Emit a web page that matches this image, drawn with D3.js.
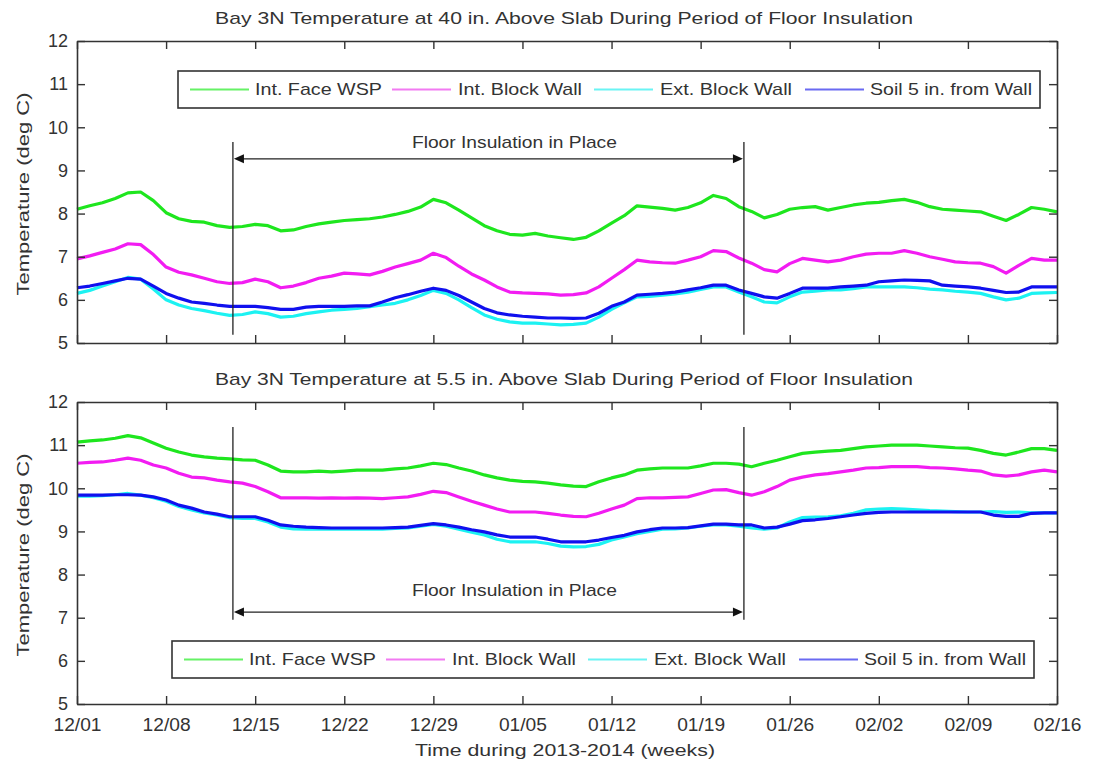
<!DOCTYPE html>
<html>
<head>
<meta charset="utf-8">
<script src="https://cdn.jsdelivr.net/npm/d3@7"></script>
<style>
  body { margin: 0; background: #fff; }
  svg text { font-family: "Liberation Sans", Arial, sans-serif; fill: #333; }
</style>
</head>
<body>
<div id="chart"></div>
<script>
// daily readings, 12/01/2013 .. 02/16/2014 (deg C)
var startDate = new Date(2013, 11, 1);
var endDate = new Date(2014, 1, 16);
var seriesNames = ["Int. Face WSP", "Int. Block Wall", "Ext. Block Wall", "Soil 5 in. from Wall"];
var seriesColors = ["#1ee61e", "#f21cf2", "#1cf2f2", "#1010ee"];
var legendColors = ["#66f266", "#f27af2", "#6af4f4", "#6a6af2"];
var yTicks = [5, 6, 7, 8, 9, 10, 11, 12];

var top40Face = [8.10, 8.18, 8.25, 8.35, 8.48, 8.50, 8.30, 8.02, 7.88, 7.82, 7.80, 7.72, 7.68, 7.70, 7.75, 7.72, 7.60, 7.62, 7.70, 7.76,
  7.80, 7.84, 7.86, 7.88, 7.92, 7.98, 8.05, 8.15, 8.33, 8.25, 8.08, 7.90, 7.72, 7.60, 7.52, 7.50, 7.54, 7.48, 7.44, 7.40,
  7.45, 7.60, 7.78, 7.95, 8.18, 8.15, 8.12, 8.08, 8.14, 8.25, 8.42, 8.35, 8.16, 8.05, 7.90, 7.98, 8.10, 8.14, 8.16, 8.08,
  8.14, 8.20, 8.24, 8.26, 8.30, 8.33, 8.26, 8.16, 8.10, 8.08, 8.06, 8.04, 7.94, 7.84, 7.98, 8.14, 8.10, 8.04];
var top40IntBlock = [6.95, 7.02, 7.10, 7.18, 7.30, 7.28, 7.05, 6.76, 6.64, 6.58, 6.50, 6.42, 6.38, 6.40, 6.48, 6.42, 6.28, 6.32, 6.40, 6.50,
  6.55, 6.62, 6.60, 6.58, 6.66, 6.76, 6.84, 6.92, 7.08, 6.98, 6.78, 6.60, 6.46, 6.30, 6.18, 6.16, 6.15, 6.14, 6.11, 6.12,
  6.16, 6.30, 6.50, 6.70, 6.92, 6.88, 6.86, 6.85, 6.92, 7.00, 7.14, 7.12, 6.97, 6.85, 6.70, 6.65, 6.84, 6.96, 6.92, 6.88,
  6.92, 7.00, 7.06, 7.08, 7.08, 7.14, 7.08, 7.00, 6.94, 6.88, 6.86, 6.85, 6.77, 6.62, 6.80, 6.96, 6.92, 6.92];
var top40ExtBlock = [6.15, 6.22, 6.32, 6.42, 6.52, 6.48, 6.25, 6.00, 5.88, 5.80, 5.75, 5.69, 5.64, 5.66, 5.72, 5.68, 5.60, 5.62, 5.68, 5.72,
  5.76, 5.78, 5.80, 5.84, 5.88, 5.92, 6.00, 6.10, 6.22, 6.15, 6.00, 5.82, 5.65, 5.55, 5.49, 5.46, 5.46, 5.44, 5.42, 5.43,
  5.46, 5.60, 5.78, 5.93, 6.07, 6.08, 6.11, 6.14, 6.18, 6.24, 6.30, 6.30, 6.18, 6.07, 5.95, 5.93, 6.07, 6.18, 6.20, 6.23,
  6.23, 6.26, 6.30, 6.30, 6.30, 6.30, 6.28, 6.25, 6.23, 6.20, 6.18, 6.15, 6.07, 6.00, 6.04, 6.15, 6.16, 6.17];
var top40Soil = [6.28, 6.32, 6.38, 6.44, 6.50, 6.48, 6.32, 6.15, 6.04, 5.95, 5.92, 5.88, 5.85, 5.85, 5.85, 5.82, 5.78, 5.78, 5.83, 5.85,
  5.85, 5.85, 5.86, 5.86, 5.95, 6.05, 6.12, 6.20, 6.27, 6.22, 6.10, 5.95, 5.80, 5.70, 5.65, 5.62, 5.60, 5.58, 5.58, 5.57,
  5.58, 5.69, 5.85, 5.95, 6.11, 6.13, 6.15, 6.18, 6.23, 6.28, 6.34, 6.34, 6.23, 6.15, 6.07, 6.04, 6.15, 6.27, 6.27, 6.27,
  6.30, 6.32, 6.34, 6.42, 6.44, 6.46, 6.45, 6.44, 6.34, 6.32, 6.30, 6.27, 6.22, 6.17, 6.18, 6.30, 6.30, 6.30];

var low55Face = [11.07, 11.10, 11.12, 11.16, 11.22, 11.17, 11.05, 10.93, 10.84, 10.77, 10.73, 10.70, 10.68, 10.66, 10.65, 10.54, 10.40, 10.38, 10.38, 10.40,
  10.38, 10.40, 10.42, 10.42, 10.42, 10.45, 10.47, 10.52, 10.58, 10.55, 10.47, 10.40, 10.31, 10.24, 10.19, 10.16, 10.15, 10.12, 10.08, 10.05,
  10.04, 10.15, 10.24, 10.31, 10.42, 10.45, 10.47, 10.47, 10.47, 10.52, 10.58, 10.58, 10.56, 10.50, 10.58, 10.65, 10.73, 10.81, 10.84, 10.86,
  10.88, 10.92, 10.96, 10.98, 11.00, 11.00, 11.00, 10.98, 10.96, 10.94, 10.93, 10.88, 10.81, 10.77, 10.84, 10.92, 10.92, 10.88];
var low55IntBlock = [10.58, 10.60, 10.61, 10.65, 10.70, 10.65, 10.54, 10.47, 10.35, 10.26, 10.24, 10.19, 10.15, 10.12, 10.04, 9.92, 9.78, 9.78, 9.78, 9.77,
  9.78, 9.77, 9.78, 9.77, 9.76, 9.78, 9.80, 9.86, 9.93, 9.90, 9.80, 9.70, 9.61, 9.52, 9.45, 9.45, 9.45, 9.42, 9.38, 9.35,
  9.34, 9.42, 9.52, 9.61, 9.76, 9.78, 9.78, 9.79, 9.80, 9.88, 9.96, 9.97, 9.90, 9.84, 9.92, 10.04, 10.19, 10.26, 10.31, 10.34,
  10.38, 10.42, 10.47, 10.48, 10.50, 10.50, 10.50, 10.48, 10.47, 10.45, 10.42, 10.40, 10.31, 10.28, 10.31, 10.38, 10.42, 10.38];
var low55ExtBlock = [9.82, 9.82, 9.83, 9.85, 9.88, 9.84, 9.78, 9.70, 9.58, 9.50, 9.43, 9.38, 9.32, 9.30, 9.30, 9.22, 9.10, 9.06, 9.05, 9.05,
  9.05, 9.06, 9.05, 9.05, 9.05, 9.07, 9.08, 9.12, 9.16, 9.12, 9.05, 8.98, 8.92, 8.82, 8.76, 8.76, 8.76, 8.72, 8.66, 8.64,
  8.65, 8.70, 8.80, 8.87, 8.95, 9.00, 9.05, 9.06, 9.08, 9.12, 9.15, 9.15, 9.12, 9.08, 9.05, 9.08, 9.22, 9.32, 9.33, 9.34,
  9.36, 9.42, 9.50, 9.52, 9.53, 9.52, 9.50, 9.48, 9.47, 9.46, 9.45, 9.45, 9.46, 9.44, 9.45, 9.43, 9.43, 9.43];
var low55Soil = [9.84, 9.84, 9.84, 9.85, 9.85, 9.84, 9.80, 9.73, 9.61, 9.54, 9.45, 9.40, 9.34, 9.34, 9.34, 9.26, 9.15, 9.12, 9.10, 9.09,
  9.08, 9.08, 9.08, 9.08, 9.08, 9.09, 9.10, 9.14, 9.18, 9.15, 9.10, 9.04, 8.99, 8.92, 8.87, 8.87, 8.87, 8.82, 8.76, 8.76,
  8.76, 8.80, 8.86, 8.91, 8.99, 9.04, 9.08, 9.08, 9.09, 9.13, 9.17, 9.17, 9.15, 9.15, 9.08, 9.10, 9.17, 9.25, 9.27, 9.30,
  9.34, 9.38, 9.42, 9.44, 9.45, 9.45, 9.45, 9.45, 9.45, 9.45, 9.45, 9.45, 9.38, 9.35, 9.35, 9.42, 9.43, 9.43];

// insulation period (days after 12/01)
var insulStart = 12.25, insulEnd = 52.4;

var width = 1097, height = 762;
var margin = { left: 77, right: 40 };
var plotW = 1057 - margin.left, plotH = 302;

var svg = d3.select("#chart")
  .append("svg")
  .attr("width", width)
  .attr("height", height);

var xScale = d3.scaleTime()
  .domain([startDate, endDate])
  .range([0, plotW]);

// fractional days after the start date
var dayDate = function(d) { return new Date(startDate.getTime() + d * 864e5); };

function drawPanel(cfg) {
  var g = svg.append("g")
    .attr("transform", `translate(${margin.left},${cfg.top})`);

  var yScale = d3.scaleLinear()
    .domain([5, 12])
    .range([plotH, 0]);

  // title
  svg.append("text")
    .attr("x", 564)
    .attr("y", cfg.top - 17)
    .attr("text-anchor", "middle")
    .attr("font-size", "17px")
    .attr("textLength", 698)
    .attr("lengthAdjust", "spacingAndGlyphs")
    .text(cfg.title);

  // series lines
  var line = d3.line()
    .x((d, i) => xScale(dayDate(i)))
    .y(d => yScale(d));

  cfg.series.forEach(function(s, k) {
    g.append("path")
      .datum(s)
      .attr("fill", "none")
      .attr("stroke", seriesColors[k])
      .attr("stroke-width", 3.2)
      .attr("stroke-linejoin", "round")
      .attr("d", line);
  });

  // insulation markers
  var xa = xScale(dayDate(insulStart)), xb = xScale(dayDate(insulEnd));
  [xa, xb].forEach(function(x) {
    g.append("line")
      .attr("x1", x).attr("x2", x)
      .attr("y1", yScale(cfg.vTop)).attr("y2", yScale(cfg.vBottom))
      .attr("stroke", "#222").attr("stroke-width", 1.3);
  });
  var ay = yScale(cfg.arrowY);
  g.append("line")
    .attr("x1", xa + 8).attr("x2", xb - 8)
    .attr("y1", ay).attr("y2", ay)
    .attr("stroke", "#222").attr("stroke-width", 1.3);
  g.append("path")
    .attr("d", `M${xa + 1},${ay} L${xa + 11},${ay - 4.5} L${xa + 11},${ay + 4.5} Z`)
    .attr("fill", "#111");
  g.append("path")
    .attr("d", `M${xb - 1},${ay} L${xb - 11},${ay - 4.5} L${xb - 11},${ay + 4.5} Z`)
    .attr("fill", "#111");
  g.append("text")
    .attr("x", (xa + xb) / 2 + 26)
    .attr("y", yScale(cfg.labelY))
    .attr("dy", "0.35em")
    .attr("text-anchor", "middle")
    .attr("font-size", "17px")
    .attr("textLength", 205)
    .attr("lengthAdjust", "spacingAndGlyphs")
    .text("Floor Insulation in Place");

  // axes (MATLAB style box, ticks inside)
  var xTicks = d3.timeDay.range(startDate, d3.timeDay.offset(endDate, 1), 7);
  var yAxis = d3.axisLeft(yScale).tickValues(yTicks).tickSizeInner(-8).tickSizeOuter(0)
    .tickPadding(9).tickFormat(d3.format("d"));
  var yAxisR = d3.axisRight(yScale).tickValues(yTicks).tickSizeInner(-8).tickSizeOuter(0).tickFormat("");
  var xAxisT = d3.axisTop(xScale).tickValues(xTicks).tickSizeInner(-8).tickSizeOuter(0).tickFormat("");
  var xAxisB = d3.axisBottom(xScale).tickValues(xTicks).tickSizeInner(-8).tickSizeOuter(0)
    .tickPadding(14).tickFormat(cfg.showDates ? d3.timeFormat("%m/%d") : "");

  g.append("g").attr("class", "y-axis").call(yAxis);
  g.append("g").attr("transform", `translate(${plotW},0)`).call(yAxisR);
  g.append("g").call(xAxisT);
  g.append("g").attr("class", "x-axis").attr("transform", `translate(0,${plotH})`).call(xAxisB);

  g.selectAll(".domain").attr("stroke", "#333").attr("stroke-width", 1.6);
  g.selectAll(".tick line").attr("stroke", "#333").attr("stroke-width", 1.4);
  g.selectAll(".tick text")
    .attr("font-family", "Liberation Sans, Arial, sans-serif")
    .attr("font-size", "18px")
    .attr("fill", "#333");
  g.selectAll(".x-axis .tick text")
    .attr("textLength", 48)
    .attr("lengthAdjust", "spacingAndGlyphs");

  // y label
  svg.append("text")
    .attr("transform", `translate(29,${cfg.top + plotH / 2 + 2}) rotate(-90)`)
    .attr("text-anchor", "middle")
    .attr("font-size", "17px")
    .attr("textLength", 203)
    .attr("lengthAdjust", "spacingAndGlyphs")
    .text("Temperature (deg C)");

  // legend
  var lg = svg.append("g").attr("transform", `translate(${cfg.legendX},${cfg.legendY})`);
  lg.append("rect")
    .attr("x", 0).attr("y", 0)
    .attr("width", 862).attr("height", 37)
    .attr("fill", "#fff")
    .attr("stroke", "#333").attr("stroke-width", 1.6);
  var lineX = [12, 214, 416, 627];
  var textX = [77, 280, 482, 692];
  var textW = [127, 124, 132, 162];
  seriesNames.forEach(function(name, k) {
    lg.append("line")
      .attr("x1", lineX[k]).attr("x2", lineX[k] + 59)
      .attr("y1", 18.5).attr("y2", 18.5)
      .attr("stroke", legendColors[k]).attr("stroke-width", 2.2);
    lg.append("text")
      .attr("x", textX[k]).attr("y", 18.5)
      .attr("dy", "0.35em")
      .attr("font-size", "17px")
      .attr("textLength", textW[k])
      .attr("lengthAdjust", "spacingAndGlyphs")
      .text(name);
  });
}

drawPanel({
  top: 41,
  title: "Bay 3N Temperature at 40 in. Above Slab During Period of Floor Insulation",
  series: [top40Face, top40IntBlock, top40ExtBlock, top40Soil],
  vTop: 9.66, vBottom: 5.19, arrowY: 9.27, labelY: 9.66,
  legendX: 178, legendY: 71,
  showDates: false
});

drawPanel({
  top: 402,
  title: "Bay 3N Temperature at 5.5 in. Above Slab During Period of Floor Insulation",
  series: [low55Face, low55IntBlock, low55ExtBlock, low55Soil],
  vTop: 11.42, vBottom: 6.95, arrowY: 7.13, labelY: 7.64,
  legendX: 172, legendY: 641,
  showDates: true
});

// x label
svg.append("text")
  .attr("x", 565)
  .attr("y", 750)
  .attr("dy", "0.35em")
  .attr("text-anchor", "middle")
  .attr("font-size", "17px")
  .attr("textLength", 300)
  .attr("lengthAdjust", "spacingAndGlyphs")
  .text("Time during 2013-2014 (weeks)");
</script>
</body>
</html>
